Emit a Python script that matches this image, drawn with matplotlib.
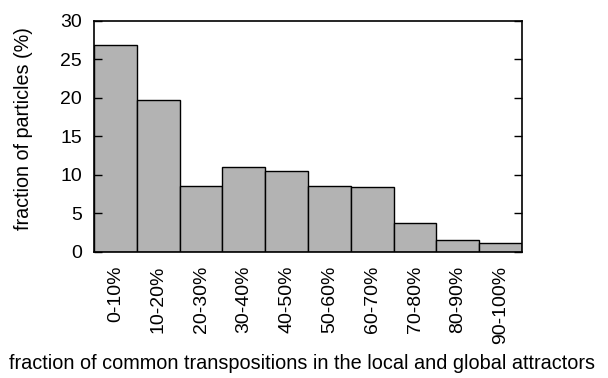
import numpy as np
import matplotlib
matplotlib.use("Agg")
import matplotlib.pyplot as plt

plt.rcParams['font.family'] = ['Liberation Sans', 'DejaVu Sans']

# bins and values
bins = ['0-10%', '10-20%', '20-30%', '30-40%', '40-50%',
        '50-60%', '60-70%', '70-80%', '80-90%', '90-100%']
fraction = [26.8, 19.7, 8.5, 11.0, 10.5, 8.6, 8.4, 3.7, 1.55, 1.2]

fig = plt.figure(figsize=(6.08, 3.78), dpi=100)
ax = fig.add_axes([0.1546, 0.334, 0.704, 0.611])

x = np.arange(len(bins))
ax.bar(x, fraction, width=1.0, color='#b3b3b3', edgecolor='black', linewidth=1.0)

ax.set_xlim(-0.5, len(bins) - 0.5)
ax.set_ylim(0, 30)
ax.set_yticks([0, 5, 10, 15, 20, 25, 30])
ax.set_xticks(x)
ax.set_xticklabels(bins, rotation=90, fontsize=14)
ax.tick_params(axis='y', labelsize=14, direction='in', right=True, length=6, width=1, pad=8.5)
ax.tick_params(axis='x', direction='in', length=0, pad=10)
for s in ax.spines.values():
    s.set_linewidth(1.2)

# axis titles placed by hand, like the gnuplot output
fig.text(0.038, 0.66, 'fraction of particles (%)', rotation=90,
         ha='center', va='center', fontsize=14.2)
fig.text(0.497, 0.012, 'fraction of common transpositions in the local and global attractors',
         ha='center', va='bottom', fontsize=14.3)

fig.savefig('out.png', dpi=100)
